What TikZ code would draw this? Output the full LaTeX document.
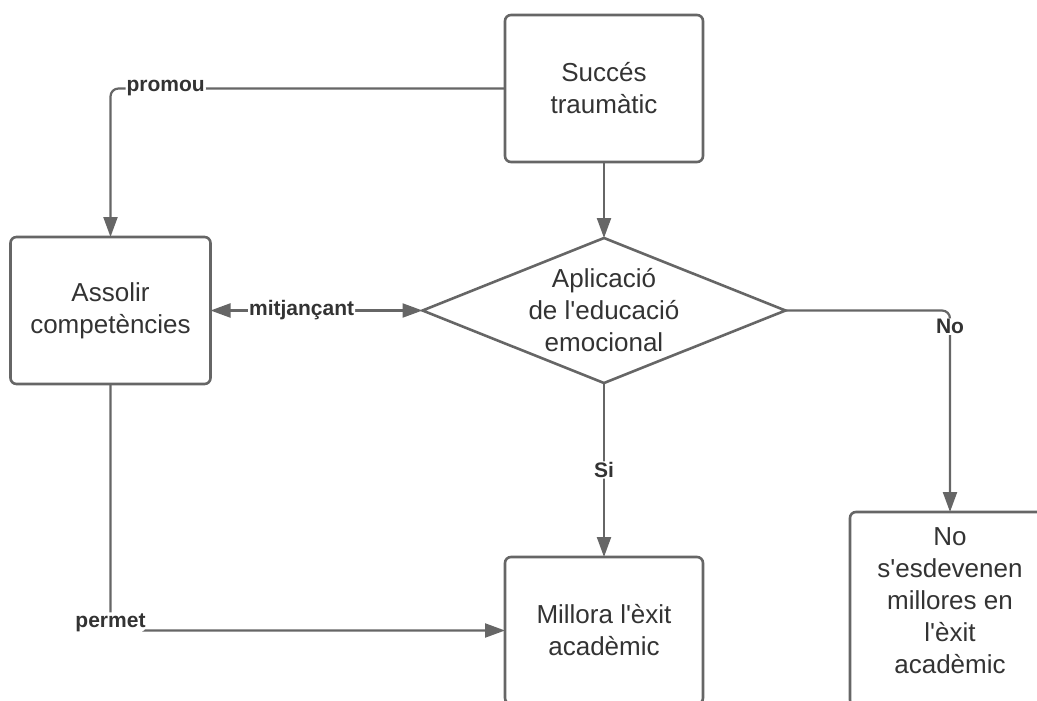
\documentclass[tikz,border=0pt]{standalone}
\usepackage{fontspec}
\setmainfont{Liberation Sans}[Ligatures=TeXOff]
\usetikzlibrary{shapes.geometric, arrows.meta, positioning}
\definecolor{linegray}{HTML}{666666}
\definecolor{textgray}{HTML}{333333}
\tikzstyle{box} = [rectangle, draw=linegray, line width=2.6pt, rounded corners=6pt, minimum width=198pt, minimum height=147pt, align=center, text=textgray, font=\fontsize{26}{32}\selectfont, outer sep=0pt]
\tikzstyle{decision} = [diamond, draw=linegray, line width=2.6pt, minimum width=363pt, minimum height=145pt, inner sep=0pt, outer sep=0pt]
\tikzstyle{dtext} = [align=center, text=textgray, font=\fontsize{26}{32}\selectfont]
\tikzstyle{flow} = [draw=linegray, line width=2.2pt, rounded corners=8pt, ->]
\tikzstyle{lbl} = [fill=white, text=textgray, font=\bfseries\fontsize{21}{24}\selectfont, inner sep=1pt]

\begin{document}
\begin{tikzpicture}[x=1pt, y=-1pt, node distance=76pt, >={Triangle[length=20pt, width=14pt]}]
    \path[use as bounding box, clip] (0,0) rectangle (1037,701);

    % Nodes
    \node [box] (success) at (604,88.5) {Succés\\traumàtic};
    \node [decision, below=of success, label={[dtext]center:{Aplicació\\de l'educació\\emocional}}] (decision) {};
    \node [box, minimum width=200pt, left=212pt of decision] (assolir) {Assolir\\competències};
    \node [box, below=174pt of decision] (millora) {Millora l'èxit\\acadèmic};
    \node [box, minimum width=200pt, minimum height=194pt, text depth=16pt, anchor=north west] (nobox) at (850,512) {No\\s'esdevenen\\millores en\\l'èxit\\acadèmic};

    % Lines
    \path [flow] (success.west) -- node [lbl, pos=0.86] {promou} (success.west -| assolir.north) -- (assolir.north);
    \path [flow] (success.south) -- (decision.north);
    \path [flow, <->] (assolir.east) -- node [lbl, pos=0.43] {mitjançant} (decision.west);
    \path [flow] (decision.east) -- (decision.east -| nobox.north) -- node [lbl, pos=0.08] {No} (nobox.north);
    \path [flow] (decision.south) -- node [lbl] {Si} (millora.north);
    \path [flow] (assolir.south) |- node [lbl, pos=0.5, yshift=8pt] {permet} (millora.west);
\end{tikzpicture}
\end{document}
